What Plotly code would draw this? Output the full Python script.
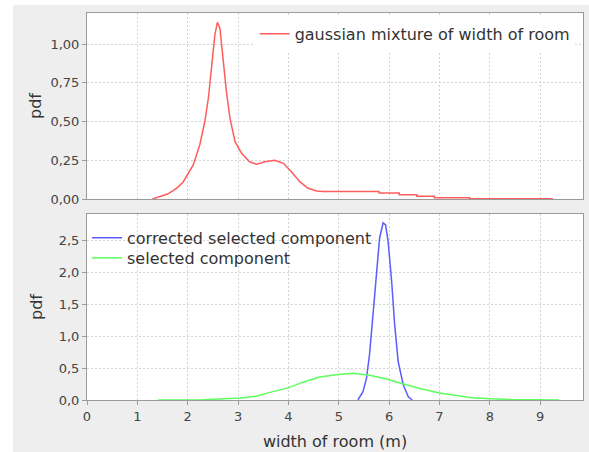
import plotly.graph_objects as go
from plotly.subplots import make_subplots

# ---- data ----
mix_x = [1.30, 1.45, 1.60, 1.71, 1.80, 1.91, 2.00, 2.11, 2.24, 2.34, 2.41, 2.47, 2.54, 2.59,
         2.64, 2.70, 2.77, 2.84, 2.94, 3.07, 3.23, 3.37, 3.53, 3.73, 3.90, 4.06, 4.23, 4.39,
         4.56, 4.70, 5.80, 5.80, 6.20, 6.20, 6.55, 6.55, 6.90, 6.90, 7.60, 7.60, 9.25]
mix_y = [0.000, 0.015, 0.032, 0.054, 0.075, 0.110, 0.160, 0.220, 0.350, 0.500, 0.650, 0.840, 1.060, 1.140,
         1.100, 0.910, 0.690, 0.520, 0.370, 0.295, 0.240, 0.224, 0.240, 0.250, 0.230, 0.176, 0.110, 0.069,
         0.052, 0.048, 0.048, 0.038, 0.038, 0.027, 0.027, 0.017, 0.017, 0.008, 0.008, 0.002, 0.002]

corr_x = [5.38, 5.48, 5.55, 5.61, 5.68, 5.75, 5.81, 5.88, 5.93, 5.98, 6.05, 6.11, 6.18, 6.28, 6.38, 6.46]
corr_y = [0.00, 0.13, 0.34, 0.71, 1.34, 2.02, 2.54, 2.78, 2.75, 2.49, 1.86, 1.18, 0.60, 0.24, 0.05, 0.00]

sel_x = [1.41, 2.30, 3.04, 3.36, 3.63, 3.99, 4.29, 4.62, 4.99, 5.28, 5.61, 5.95, 6.28, 6.61, 7.00,
         7.30, 7.60, 8.00, 8.40, 9.37]
sel_y = [0.000, 0.005, 0.030, 0.060, 0.120, 0.190, 0.280, 0.360, 0.400, 0.420, 0.390, 0.330, 0.250, 0.180, 0.110,
         0.070, 0.040, 0.020, 0.008, 0.000]

x_ticks = [0, 1, 2, 3, 4, 5, 6, 7, 8, 9]
top_ticks = [0, 0.25, 0.5, 0.75, 1.0]
top_ticktext = ["0,00", "0,25", "0,50", "0,75", "1,00"]
bot_ticks = [0, 0.5, 1.0, 1.5, 2.0, 2.5]
bot_ticktext = ["0,0", "0,5", "1,0", "1,5", "2,0", "2,5"]

FONT = "DejaVu Sans"
GRID = "#d4d4d4"
AXLINE = "#9a9a9a"

fig = make_subplots(rows=2, cols=1, shared_xaxes=True, vertical_spacing=15 / 387)

fig.add_trace(go.Scatter(x=mix_x, y=mix_y, mode="lines", name="gaussian mixture of width of room",
                         line=dict(color="#ff5c5c", width=1.5), legend="legend", showlegend=True), row=1, col=1)
fig.add_trace(go.Scatter(x=corr_x, y=corr_y, mode="lines", name="corrected selected component",
                         line=dict(color="#5c5cff", width=1.5), legend="legend2", showlegend=True), row=2, col=1)
fig.add_trace(go.Scatter(x=sel_x, y=sel_y, mode="lines", name="selected component",
                         line=dict(color="#5cff5c", width=1.5), legend="legend3", showlegend=True), row=2, col=1)

common_x = dict(range=[0, 9.85], tickvals=x_ticks, showgrid=True, gridcolor=GRID, griddash="2px,2px",
                zeroline=False, showline=True, linecolor=AXLINE, mirror=True, linewidth=1, automargin=False)
fig.update_xaxes(**common_x, showticklabels=False, ticks="", row=1, col=1)
fig.update_xaxes(**common_x, ticks="outside", ticklen=4, tickcolor=AXLINE,
                 tickfont=dict(family=FONT, size=13, color="#444"),
                 title=dict(text="width of room (m)", font=dict(family=FONT, size=16, color="#333"), standoff=13),
                 row=2, col=1)

common_y = dict(showgrid=True, gridcolor=GRID, griddash="2px,2px", zeroline=False, showline=True,
                linecolor=AXLINE, mirror=True, linewidth=1, ticks="outside", ticklen=4, tickcolor=AXLINE,
                tickfont=dict(family=FONT, size=13, color="#444"), automargin=False)
fig.update_yaxes(**common_y, range=[0, 1.2], tickvals=top_ticks, ticktext=top_ticktext,
                 title=dict(text="pdf", font=dict(family=FONT, size=16, color="#333"), standoff=4),
                 row=1, col=1)
fig.update_yaxes(**common_y, range=[0, 2.92], tickvals=bot_ticks, ticktext=bot_ticktext,
                 title=dict(text="pdf", font=dict(family=FONT, size=16, color="#333"), standoff=12),
                 row=2, col=1)

leg_font = dict(family=FONT, size=16, color="#333")
fig.update_layout(
    width=589, height=452,
    margin=dict(l=87, r=6, t=13, b=52, autoexpand=False),
    paper_bgcolor="#eeeeee", plot_bgcolor="white",
    font=dict(family=FONT, color="#333"),
    showlegend=True,
    legend=dict(x=0.338, y=0.99, xanchor="left", yanchor="top", bgcolor="white",
                font=leg_font, borderwidth=0),
    legend2=dict(x=0.0, y=0.463, xanchor="left", yanchor="top", bgcolor="rgba(255,255,255,0)",
                 font=leg_font, borderwidth=0),
    legend3=dict(x=0.0, y=0.411, xanchor="left", yanchor="top", bgcolor="rgba(255,255,255,0)",
                 font=leg_font, borderwidth=0),
    shapes=[
        dict(type="rect", xref="paper", yref="paper", x0=-0.1754, x1=-0.1492, y0=-0.1344, y1=1.0336,
             fillcolor="white", line=dict(width=0), layer="below"),
        dict(type="rect", xref="paper", yref="paper", x0=-0.1754, x1=1.0121, y0=1.0207, y1=1.0336,
             fillcolor="white", line=dict(width=0), layer="below"),
    ],
)

fig.write_html("out.html", config={"displayModeBar": False},
               post_script="document.body.style.margin='0';")
